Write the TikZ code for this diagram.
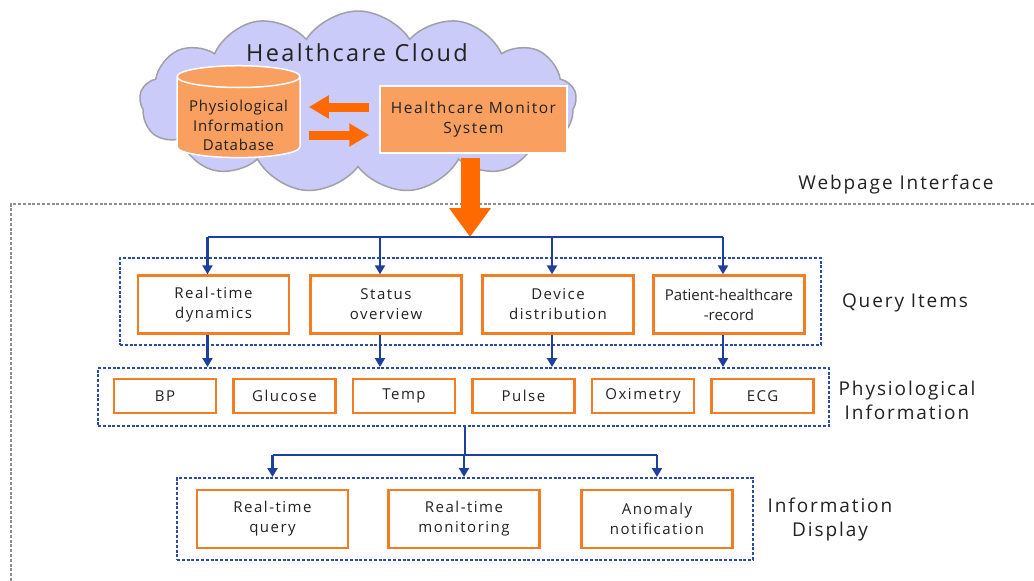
\documentclass[tikz,border=0pt]{standalone}
\usepackage{fontspec}
\setmainfont{Open Sans}[LetterSpace=10]
\newfontfamily\tightfont{Open Sans}[LetterSpace=0]
\newfontfamily\midfont{Open Sans}[LetterSpace=5]
\usetikzlibrary{shapes.geometric,shapes.symbols,arrows.meta,calc}
\definecolor{cloudfill}{HTML}{CBCBF9}
\definecolor{cloudline}{HTML}{A0A0A8}
\definecolor{dbfill}{HTML}{F9A060}
\definecolor{fatorange}{HTML}{FF6A00}
\definecolor{boxline}{HTML}{F47C22}
\definecolor{navy}{HTML}{1F3F9E}
\definecolor{dashblue}{HTML}{2A4BAA}
\definecolor{framegray}{HTML}{8E8E8E}
\definecolor{txt}{HTML}{222222}
\begin{document}
\begin{tikzpicture}[x=1pt,y=-1pt,
 qbox/.style={draw=boxline, line width=2.4pt, fill=white, minimum width=151pt, minimum height=58pt, align=center, font=\fontsize{15}{20}\selectfont, text=txt, inner sep=0pt},
 pbox/.style={qbox, minimum width=102pt, minimum height=34pt},
 group/.style={draw=dashblue, line width=2pt, dash pattern=on 3pt off 1.8pt, inner sep=0pt},
 link/.style={draw=navy, line width=2.2pt},
 linkarrow/.style={link, -{Triangle[width=10pt,length=9pt]}},
 fat/.style={draw=fatorange, line width=9pt, -{Triangle[width=22pt,length=20pt]}},
 sidelabel/.style={font=\fontsize{19}{24}\selectfont, text=txt, align=center},
]
\useasboundingbox (0,0) rectangle (1034,581);
\fill[white] (0,0) rectangle (1034,581);

% webpage interface frame
\draw[framegray, line width=2pt, dash pattern=on 3pt off 1.8pt] (11,581) -- (11,204) -- (1034,204);
\node[sidelabel] (wlabel) at (896,185) {Webpage Interface};

% cloud
\node[cloud, cloud puffs=13, cloud puff arc=115, aspect=2.4, draw=cloudline, fill=cloudfill, line width=1.5pt, minimum width=437pt, minimum height=182pt] (cloud) at (358,102) {};
\node[font=\fontsize{23.5}{28}\selectfont, text=txt] (ctitle) at (357,53) {Healthcare Cloud};
\node[cylinder, shape border rotate=90, aspect=0.22, draw=white, line width=1.5pt, fill=dbfill, minimum width=123pt, minimum height=91pt, inner sep=0pt, font=\midfont\fontsize{15}{19.5}\selectfont] (db) at (238.5,117.5) {\phantom{\begin{tabular}{@{}c@{}}Physiological\\Information\\Database\end{tabular}}};
\node[align=center, font=\midfont\fontsize{15}{19.5}\selectfont, text=txt, inner sep=0pt] (dbtext) at ([yshift=-8pt]db.center) {Physiological\\Information\\Database};
\node[fill=dbfill, draw=white, line width=1.5pt, minimum width=187pt, minimum height=67pt, align=center, font=\fontsize{15.5}{19.5}\selectfont, text=txt, inner sep=0pt] (mon) at (473.5,119.5) {Healthcare Monitor\\System};
\draw[fat, shorten <=10pt, shorten >=8pt] ([yshift=12.5pt]mon.west) -- ([yshift=12.5pt]mon.west -| db.east);
\draw[fat, shorten <=8pt, shorten >=10pt] ([yshift=-15.5pt]mon.west -| db.east) -- ([yshift=-15.5pt]mon.west);

% query items
\node[group, minimum width=701pt, minimum height=87pt] (qgroup) at (470.5,301.5) {};
\node[qbox] (q1) at (213.5,304.5) {Real-time\\dynamics};
\node[qbox] (q2) at (386,304.5) {Status\\overview};
\node[qbox] (q3) at (558,304.5) {Device\\distribution};
\node[qbox, font=\tightfont\fontsize{15}{20}\selectfont] (q4) at (729,304.5) {Patient-healthcare\\-record};
\node[sidelabel] (qlabel) at (905,303) {Query Items};

\coordinate (qsplit) at (470,237);
\draw[draw=fatorange, line width=19pt, -{Triangle[width=40pt,length=29pt]}, shorten <=4pt] (mon.south -| qsplit) -- (qsplit);
\draw[link] ([xshift=-6pt]q1.north |- qsplit) -- ([xshift=-6pt]q4.north |- qsplit);
\foreach \q in {q1,q2,q3,q4}{
  \draw[linkarrow] ([xshift=-6pt]\q.north |- qsplit) -- ([xshift=-6pt]\q.north);
}

% physiological information
\node[group, minimum width=731pt, minimum height=58pt] (pgroup) at (463.5,397) {};
\node[pbox] (p1) at (165,396) {BP};
\node[pbox] (p2) at (284.5,396) {Glucose};
\node[pbox] (p3) at (404,396) {Temp};
\node[pbox] (p4) at (523.5,396) {Pulse};
\node[pbox] (p5) at (643,396) {Oximetry};
\node[pbox] (p6) at (762.5,396) {ECG};
\node[sidelabel] (plabel) at (907,400) {Physiological\\Information};
\foreach \q in {q1,q2,q3,q4}{
  \draw[linkarrow] ([xshift=-6pt]\q.south) -- ([xshift=-6pt]\q.south |- pgroup.north);
}

% information display
\node[group, minimum width=576pt, minimum height=82pt] (igroup) at (465,519) {};
\node[qbox] (i1) at (272.5,519) {Real-time\\query};
\node[qbox] (i2) at (464,519) {Real-time\\monitoring};
\node[qbox] (i3) at (657,519) {Anomaly\\notification};
\node[sidelabel] (ilabel) at (830,520) {Information\\Display};

\coordinate (isplit) at (465,455);
\draw[link] (isplit |- pgroup.south) -- (isplit);
\draw[link] (i1.north |- isplit) -- (i3.north |- isplit);
\foreach \i in {i1,i2,i3}{
  \draw[linkarrow] (\i.north |- isplit) -- (\i.north |- igroup.north);
}
\end{tikzpicture}
\end{document}
